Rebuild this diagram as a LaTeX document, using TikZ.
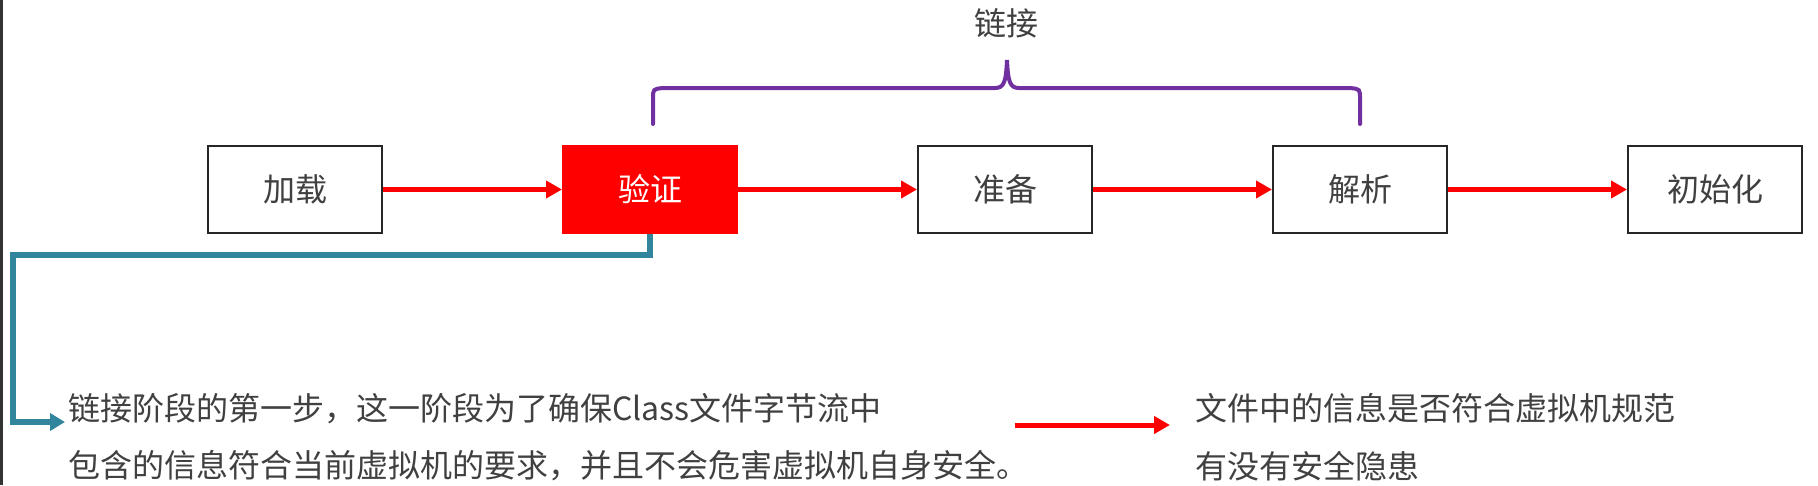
\documentclass[tikz,border=0pt]{standalone}
\usepackage{fontspec}
\setmainfont{Noto Sans CJK SC}
\usetikzlibrary{arrows.meta}
\definecolor{txt}{RGB}{64,64,64}
\definecolor{tealA}{RGB}{49,133,156}
\definecolor{purp}{RGB}{112,48,160}
\definecolor{redA}{RGB}{255,0,0}
\begin{document}
\begin{tikzpicture}[x=1pt,y=-1pt,
  stage/.style={draw=black!85, line width=2pt, minimum width=174pt, minimum height=87pt, inner sep=0pt, font=\fontsize{32}{38}\selectfont, text=txt},
  flow/.style={draw=redA, line width=5pt, -{Triangle[length=16pt,width=17pt]}},
  note/.style={anchor=west, inner sep=0pt, font=\fontsize{32}{38}\selectfont, text=txt}]
\useasboundingbox (0,0) rectangle (1818,485);
\fill[white] (0,0) rectangle (1818,485);
\fill[black!80] (0,0) rectangle (3,485);

\node[stage] (load) at (295,189.5) {加载};
\node[stage, fill=redA, draw=redA, text=white] (verify) at (650,189.5) {验证};
\node[stage] (prep) at (1005,189.5) {准备};
\node[stage] (resolve) at (1360,189.5) {解析};
\node[stage] (init) at (1715,189.5) {初始化};

\draw[flow] (load) -- (verify);
\draw[flow] (verify) -- (prep);
\draw[flow] (prep) -- (resolve);
\draw[flow] (resolve) -- (init);

% brace
\draw[purp, line width=4pt, line cap=round]
  (653,124) -- (653,99) .. controls (653,89) .. (663,88) -- (995,88)
  .. controls (1004,88) and (1006,82) .. (1007,60)
  .. controls (1008,82) and (1010,88) .. (1019,88) -- (1350,88)
  .. controls (1360,89) .. (1360,99) -- (1360,124);
\node[note, anchor=center] (link) at (1006,23) {链接};

% notes
\node[note] (n1) at (68,409) {链接阶段的第一步，这一阶段为了确保Class文件字节流中};
\node[note] (n2) at (68,466) {包含的信息符合当前虚拟机的要求，并且不会危害虚拟机自身安全。};
\node[note] (r1) at (1195,408) {文件中的信息是否符合虚拟机规范};
\node[note] (r2) at (1195,466) {有没有安全隐患};

\coordinate (tend) at (65,422);
\draw[tealA, line width=6pt, -{Triangle[length=15pt,width=17pt]}]
  (verify.south) |- (13,255) |- (tend);

\coordinate (ra) at (1015,425);
\coordinate (rb) at (1170,425);
\draw[flow] (ra) -- (rb);
\end{tikzpicture}
\end{document}
